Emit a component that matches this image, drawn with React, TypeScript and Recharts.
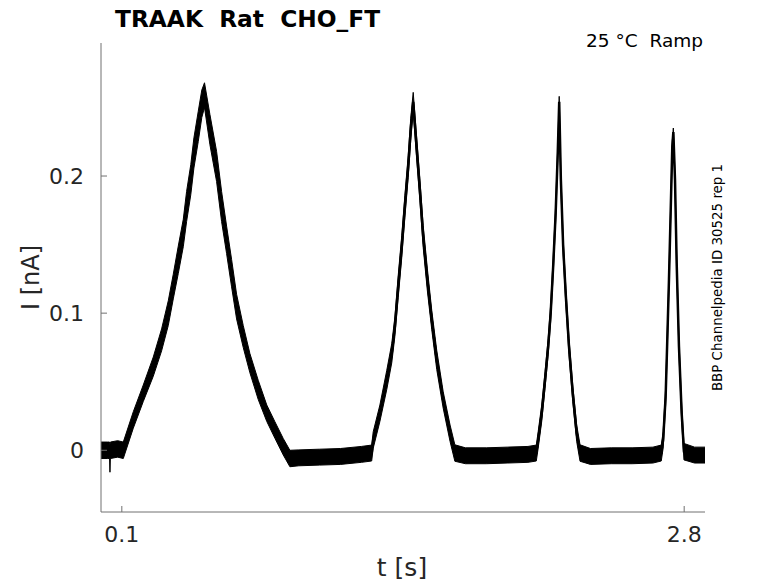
import React from "react";
import { ComposedChart, Area, Line, XAxis, YAxis } from "recharts";

// time [s]
const timeS = [
  0, 0.03, 0.041, 0.043, 0.045, 0.08, 0.107,
  0.155, 0.203, 0.251, 0.291, 0.323, 0.347, 0.371, 0.395, 0.411, 0.431, 0.446, 0.467, 0.484, 0.497,
  0.523, 0.555, 0.579, 0.603, 0.627, 0.651, 0.683, 0.715, 0.755, 0.796, 0.835, 0.875, 0.907,
  0.95, 1.05, 1.15, 1.25, 1.2996,
  1.307, 1.339, 1.372, 1.396, 1.411, 1.427, 1.444, 1.459, 1.475, 1.487, 1.499,
  1.515, 1.531, 1.547, 1.567, 1.588, 1.612, 1.643, 1.676, 1.699,
  1.75, 1.85, 1.95, 2.05, 2.09,
  2.099, 2.116, 2.132, 2.147, 2.159, 2.171, 2.183, 2.193, 2.2,
  2.208, 2.219, 2.232, 2.247, 2.265, 2.284, 2.3,
  2.35, 2.45, 2.55, 2.65, 2.69,
  2.699, 2.711, 2.718, 2.727, 2.735, 2.743, 2.748,
  2.756, 2.764, 2.775, 2.788, 2.799,
  2.85, 2.9,
];

// current [nA] (centre of the trace)
const currentNA = [
  0, 0, 0, -0.006, 0, 0.001, 0.0,
  0.0221, 0.0416, 0.061, 0.0805, 0.1, 0.1194, 0.1389, 0.1584, 0.1778, 0.1973, 0.2168, 0.2362, 0.2527, 0.259,
  0.2338, 0.207, 0.1778, 0.1535, 0.1292, 0.1048, 0.0829, 0.0635, 0.044, 0.027, 0.0148, 0.0026, -0.006,
  -0.0055, -0.005, -0.0045, -0.003, -0.002,
  0.0075, 0.027, 0.0513, 0.0708, 0.0902, 0.1194, 0.1486, 0.1778, 0.207, 0.2338, 0.254,
  0.2216, 0.19, 0.1559, 0.1243, 0.0951, 0.0659, 0.0367, 0.0124, -0.002,
  -0.004, -0.004, -0.0035, -0.003, -0.002,
  0.0075, 0.027, 0.0513, 0.0756, 0.1, 0.134, 0.173, 0.2168, 0.2541,
  0.1973, 0.1486, 0.1121, 0.0756, 0.0416, 0.0124, -0.002,
  -0.0045, -0.004, -0.004, -0.0035, -0.002,
  0.0075, 0.0391, 0.0756, 0.1243, 0.173, 0.2216, 0.232,
  0.1973, 0.1365, 0.0756, 0.027, -0.001,
  -0.0035, -0.0035,
];

// half-width of the noise band [nA]
const noiseNA = [
  0.006, 0.006, 0.006, 0.01, 0.006, 0.006, 0.006,
  0.006, 0.006, 0.007, 0.008, 0.009, 0.009, 0.01, 0.01, 0.011, 0.011, 0.011, 0.011, 0.01, 0.009,
  0.011, 0.011, 0.011, 0.01, 0.01, 0.009, 0.008, 0.007, 0.007, 0.006, 0.006, 0.006, 0.006,
  0.0058, 0.0058, 0.0058, 0.0058, 0.0058,
  0.006, 0.006, 0.007, 0.007, 0.007, 0.008, 0.008, 0.008, 0.008, 0.008, 0.007,
  0.008, 0.008, 0.008, 0.008, 0.007, 0.007, 0.006, 0.006, 0.006,
  0.0058, 0.0058, 0.0058, 0.0058, 0.0058,
  0.006, 0.006, 0.006, 0.006, 0.006, 0.006, 0.006, 0.005, 0.004,
  0.005, 0.006, 0.006, 0.006, 0.006, 0.006, 0.006,
  0.0058, 0.0058, 0.0058, 0.0058, 0.0058,
  0.006, 0.006, 0.006, 0.005, 0.005, 0.004, 0.003,
  0.004, 0.005, 0.005, 0.006, 0.006,
  0.0058, 0.0058,
];

const xTicks = [0.1, 2.8];
const yTicks = [0, 0.1, 0.2];

const titleText = "TRAAK  Rat  CHO_FT";
const conditionText = "25 °C  Ramp";
const sourceText = "BBP Channelpedia ID 30525 rep 1";
const xLabel = "t [s]";
const yLabel = "I [nA]";

const data = timeS.map((t, i) => ({
  t,
  i: currentNA[i],
  band: [currentNA[i] - noiseNA[i], currentNA[i] + noiseNA[i]],
}));

const FONT = "'DejaVu Sans', sans-serif";
const TEXT = "#262626";
const AXIS = "#707070";

const XTick = (props: any) => {
  const { x, y, payload } = props;
  return (
    <g>
      <line x1={x} y1={y} x2={x} y2={y - 6} stroke={AXIS} strokeWidth={1} />
      <text x={x} y={y + 30} textAnchor="middle" fontFamily={FONT} fontSize={22} fill={TEXT}>
        {String(payload.value)}
      </text>
    </g>
  );
};

const YTick = (props: any) => {
  const { x, y, payload } = props;
  return (
    <g>
      <line x1={x} y1={y} x2={x + 6} y2={y} stroke={AXIS} strokeWidth={1} />
      <text x={x - 17} y={y + 8} textAnchor="end" fontFamily={FONT} fontSize={22} fill={TEXT}>
        {String(payload.value)}
      </text>
    </g>
  );
};

export default function App() {
  return (
    <div style={{ position: "absolute", left: 0, top: 0, width: 778, height: 583, background: "#fff" }}>
      <ComposedChart
        width={778}
        height={583}
        data={data}
        margin={{ top: 43, right: 73, bottom: 31, left: 41 }}
      >
        <XAxis
          dataKey="t"
          type="number"
          domain={[0, 2.9]}
          ticks={xTicks}
          allowDataOverflow
          height={40}
          tickSize={0}
          tickMargin={0}
          tickLine={false}
          axisLine={{ stroke: AXIS, strokeWidth: 1 }}
          tick={<XTick />}
        />
        <YAxis
          type="number"
          domain={[-0.045, 0.297]}
          ticks={yTicks}
          allowDataOverflow
          width={60}
          tickSize={0}
          tickMargin={0}
          tickLine={false}
          axisLine={{ stroke: AXIS, strokeWidth: 1 }}
          tick={<YTick />}
        />
        <Area
          type="linear"
          dataKey="band"
          stroke="#000"
          strokeWidth={1}
          fill="#000"
          fillOpacity={1}
          isAnimationActive={false}
          dot={false}
          activeDot={false}
        />
        <Line
          type="linear"
          dataKey="i"
          stroke="#000"
          strokeWidth={2.5}
          dot={false}
          activeDot={false}
          isAnimationActive={false}
        />
      </ComposedChart>
      <svg
        width={778}
        height={583}
        style={{ position: "absolute", left: 0, top: 0, pointerEvents: "none" }}
      >
        <text x={115} y={27} fontFamily={FONT} fontWeight="bold" fontSize={23.3} fill="#000" style={{ whiteSpace: "pre" }}>
          {titleText}
        </text>
        <text x={703} y={47} textAnchor="end" fontFamily={FONT} fontSize={18.5} fill="#000" style={{ whiteSpace: "pre" }}>
          {conditionText}
        </text>
        <text
          x={0}
          y={0}
          transform="translate(722,277.5) rotate(-90)"
          textAnchor="middle"
          fontFamily={FONT}
          fontSize={13.4}
          fill="#000"
        >
          {sourceText}
        </text>
        <text x={402} y={576} textAnchor="middle" fontFamily={FONT} fontSize={25} fill={TEXT}>
          {xLabel}
        </text>
        <text
          x={0}
          y={0}
          transform="translate(39,277.5) rotate(-90)"
          textAnchor="middle"
          fontFamily={FONT}
          fontSize={24}
          fill={TEXT}
        >
          {yLabel}
        </text>
      </svg>
    </div>
  );
}
